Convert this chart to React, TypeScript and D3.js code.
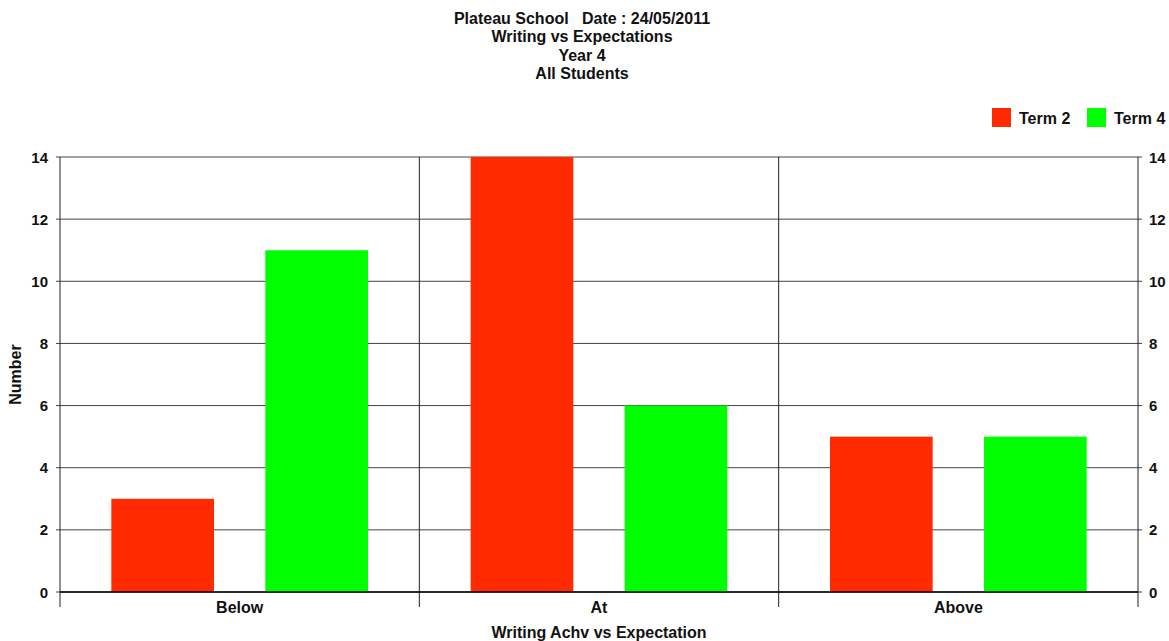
import React from "react";
import * as d3 from "d3";

const categories = ["Below", "At", "Above"];
const seriesNames = ["Term 2", "Term 4"];
const term2Values = [3, 14, 5];
const term4Values = [11, 6, 5];
const seriesColors = ["#ff2a00", "#00ff00"];
const yTicks = [0, 2, 4, 6, 8, 10, 12, 14];
const titleLines = [
	"Plateau School   Date : 24/05/2011",
	"Writing vs Expectations",
	"Year 4",
	"All Students",
];

const W = 1169;
const H = 641;
const margin = { top: 157, right: 31, bottom: 49, left: 60 };

export default function App() {
	const innerW = W - margin.left - margin.right;
	const innerH = H - margin.top - margin.bottom;

	const x0 = d3.scaleBand<string>().domain(categories).range([0, innerW]).padding(0);
	const x1 = d3
		.scaleBand<string>()
		.domain(seriesNames)
		.range([0, x0.bandwidth()])
		.paddingInner(1 / 3)
		.paddingOuter(1 / 3);
	const y = d3.scaleLinear().domain([0, 14]).range([innerH, 0]);

	const series = [term2Values, term4Values];
	const font = "'Liberation Sans', Arial, sans-serif";

	return (
		<svg
			width={W}
			height={H}
			style={{ position: "absolute", left: 0, top: 0, background: "#fff" }}
			fontFamily={font}
			fontWeight="bold"
			fontSize={16}
		>
			<rect width={W} height={H} fill="#fff" />
			{titleLines.map((t, i) => (
				<text key={t} x={582} y={24 + i * 18.3} textAnchor="middle" fill="#111" style={{ whiteSpace: "pre" }}>
					{t}
				</text>
			))}

			{/* legend */}
			{seriesNames.map((s, i) => (
				<g key={s} transform={`translate(${992 + i * 95},108)`}>
					<rect width={19} height={19} fill={seriesColors[i]} />
					<text x={27} y={16} fill="#111">
						{s}
					</text>
				</g>
			))}

			<g transform={`translate(${margin.left},${margin.top})`}>
				{/* horizontal gridlines + ticks */}
				{yTicks.map((t) => (
					<g key={t}>
						<line x1={-4} x2={innerW + 4} y1={y(t)} y2={y(t)} stroke="#444" strokeWidth={1} />
						<text x={-12} y={y(t) + 5.5} textAnchor="end" fill="#111" fontSize={15}>
							{t}
						</text>
						<text x={innerW + 11} y={y(t) + 5.5} textAnchor="start" fill="#111" fontSize={15}>
							{t}
						</text>
					</g>
				))}

				{/* bars */}
				{categories.map((c, ci) => (
					<g key={c} transform={`translate(${x0(c)},0)`}>
						{seriesNames.map((s, si) => (
							<rect
								key={s}
								x={x1(s)}
								y={y(series[si][ci])}
								width={x1.bandwidth()}
								height={innerH - y(series[si][ci])}
								fill={seriesColors[si]}
							/>
						))}
					</g>
				))}

				{/* vertical dividers and axes */}
				{[0, ...categories.map((c) => (x0(c) ?? 0) + x0.bandwidth())].map((xv, i) => (
					<line key={i} x1={xv} x2={xv} y1={0} y2={innerH + 15} stroke="#222" strokeWidth={1} />
				))}
				<line x1={0} x2={innerW} y1={innerH} y2={innerH} stroke="#000" strokeWidth={1.5} />

				{categories.map((c) => (
					<text key={c} x={(x0(c) ?? 0) + x0.bandwidth() / 2} y={innerH + 21} textAnchor="middle" fill="#111">
						{c}
					</text>
				))}

				<text x={innerW / 2} y={innerH + 46} textAnchor="middle" fill="#111">
					Writing Achv vs Expectation
				</text>
				<text transform={`translate(${-39},${innerH / 2}) rotate(-90)`} textAnchor="middle" fill="#111">
					Number
				</text>
			</g>
		</svg>
	);
}
